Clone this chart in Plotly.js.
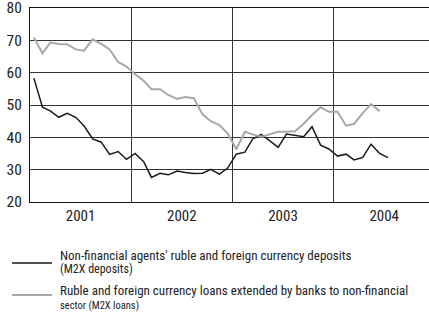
<!DOCTYPE html>
<html>
<head>
<meta charset="utf-8">
<script src="https://cdn.plot.ly/plotly-3.0.1.min.js"></script>
<style>html,body{margin:0;padding:0;background:#fff;}#chart{width:429px;height:318px;}</style>
</head>
<body>
<div id="chart"></div>
<script>
// Monthly observations, January 2001 onwards
var startYear = 2001;
var depositsName = "Non-financial agents' ruble and foreign currency deposits";
var depositsSub = "(M2X deposits)";
var loansName = "Ruble and foreign currency loans extended by banks to non-financial";
var loansSub = "sector (M2X loans)";
var titleText = "(12-month rate of change in nominal terms, % yoy)";

var deposits = [58.3, 49.3, 48.2, 46.2, 47.4, 46.2, 43.5, 39.5, 38.5, 34.7, 35.6, 33.2,
                35.0, 32.5, 27.6, 28.9, 28.4, 29.6, 29.1, 28.8, 28.9, 30.1, 28.6, 30.5,
                34.8, 35.4, 39.5, 40.9, 39.0, 36.9, 41.0, 40.7, 40.2, 43.3, 37.6, 36.4,
                34.2, 34.8, 33.0, 33.8, 37.9, 35.0, 33.7];
var loans = [70.9, 66.0, 69.3, 68.9, 68.8, 67.2, 66.8, 70.3, 68.9, 67.2, 63.3, 61.9,
             59.5, 57.5, 54.9, 54.9, 53.1, 51.9, 52.5, 52.1, 47.1, 45.0, 43.8, 41.2,
             36.3, 41.7, 40.9, 40.1, 40.9, 41.7, 41.7, 41.9, 44.2, 46.9, 49.3, 47.9,
             47.9, 43.6, 44.2, 47.5, 50.3, 48.1];
var yTicks = [20, 30, 40, 50, 60, 70, 80];

function monthDates(n) {
  var out = [];
  for (var i = 0; i < n; i++) {
    var y = startYear + Math.floor(i / 12);
    var m = (i % 12) + 1;
    out.push(y + '-' + (m < 10 ? '0' + m : m) + '-15');
  }
  return out;
}

var FONT = '"Roboto Condensed", Roboto, sans-serif';

var traces = [
  {x: monthDates(deposits.length), y: deposits, type: 'scatter', mode: 'lines',
   name: depositsName, line: {color: '#1a1a1a', width: 1.5}, showlegend: false},
  {x: monthDates(loans.length), y: loans, type: 'scatter', mode: 'lines',
   name: loansName, line: {color: '#a8a8a8', width: 2}, showlegend: false}
];

// plot area: 30..429 px horizontally, 8..202 px vertically
var PW = 399, PH = 194, PB = 202, PL = 30;
function px(x) { return (x - PL) / PW; }
function py(y) { return (PB - y) / PH; }

var layout = {
  width: 429, height: 318,
  margin: {l: 30, r: 0, t: 8, b: 116},
  paper_bgcolor: '#fff', plot_bgcolor: '#fff',
  font: {family: FONT, size: 15, color: '#222'},
  showlegend: false,
  xaxis: {
    type: 'date',
    range: ['2001-01-01', '2004-12-10'],
    tick0: '2001-01-01', dtick: 'M12',
    ticklabelmode: 'period', tickformat: '%Y',
    ticks: '', showgrid: true, gridcolor: '#333', gridwidth: 1,
    showline: true, mirror: true, linecolor: '#111', linewidth: 1,
    tickfont: {family: FONT, size: 15, color: '#222'},
    ticklabeloverflow: 'allow',
    zeroline: false, fixedrange: true
  },
  yaxis: {
    range: [20, 80], tickvals: yTicks,
    ticks: '', showgrid: true, gridcolor: '#333', gridwidth: 1,
    showline: true, linecolor: '#111', linewidth: 1,
    tickfont: {family: FONT, size: 15.5, color: '#222'},
    ticklabeloverflow: 'allow',
    ticklabelstandoff: 4,
    zeroline: false, fixedrange: true
  },
  shapes: [
    {type: 'line', xref: 'paper', yref: 'paper', x0: px(12), x1: px(52), y0: py(263), y1: py(263),
     line: {color: '#1a1a1a', width: 1.5}},
    {type: 'line', xref: 'paper', yref: 'paper', x0: px(12), x1: px(52), y0: py(295), y1: py(295),
     line: {color: '#a8a8a8', width: 2}}
  ],
  annotations: [
    {xref: 'paper', yref: 'paper', x: px(58), y: py(255.5), xanchor: 'left', yanchor: 'middle',
     text: depositsName, showarrow: false, font: {family: FONT, size: 13, color: '#222'}},
    {xref: 'paper', yref: 'paper', x: px(58), y: py(268.5), xanchor: 'left', yanchor: 'middle',
     text: depositsSub, showarrow: false, font: {family: FONT, size: 12, color: '#222'}},
    {xref: 'paper', yref: 'paper', x: px(58), y: py(290), xanchor: 'left', yanchor: 'middle',
     text: loansName, showarrow: false, font: {family: FONT, size: 13, color: '#222'}},
    {xref: 'paper', yref: 'paper', x: px(58), y: py(305), xanchor: 'left', yanchor: 'middle',
     text: loansSub, showarrow: false, font: {family: FONT, size: 10.5, color: '#222'}},
    {xref: 'paper', yref: 'paper', x: px(40), y: 1, xanchor: 'left', yanchor: 'bottom', yshift: 5,
     text: '<b>' + titleText + '</b>', showarrow: false, font: {family: FONT, size: 18, color: '#222'}}
  ]
};

Plotly.newPlot('chart', traces, layout, {displayModeBar: false, staticPlot: true});
</script>
</body>
</html>
